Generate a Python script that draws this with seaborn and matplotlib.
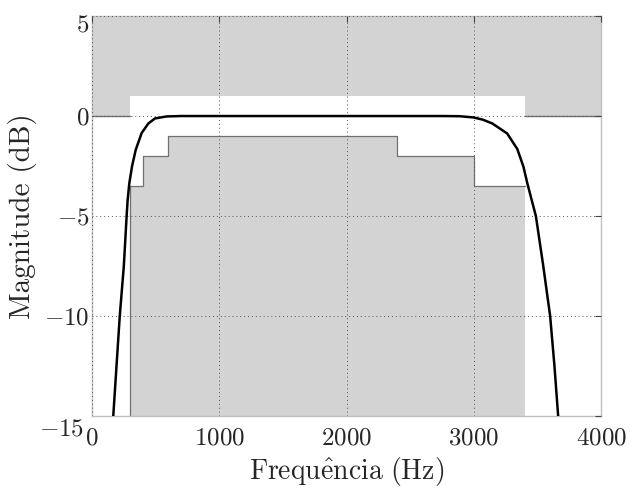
#!/usr/bin/env python3
import numpy as np
import matplotlib
matplotlib.use("Agg")
import matplotlib.pyplot as plt
import matplotlib.transforms as mtransforms
import seaborn as sns

# filter response (Hz, dB)
curve_f = [160, 167, 218, 250, 272, 280, 293, 314, 343, 390, 443, 495, 587, 700,
           1000, 1500, 2000, 2500, 2750, 2890, 2997, 3070, 3145, 3262, 3342, 3390, 3421,
           3455, 3488, 3546, 3600, 3634, 3663, 3675]
curve_db = [-16.5, -15, -10, -7.5, -5, -4.2, -3.37, -2.53, -1.7, -0.85, -0.37, -0.12, -0.02, 0,
            0, 0, 0, 0, 0, -0.01, -0.07, -0.18, -0.37, -0.87, -1.65, -2.53, -3.37,
            -4.2, -5, -7.5, -10, -12.5, -15, -16.5]

# specification mask (step edges)
upper_f = [0, 300, 3400, 4000]
upper_db = [0, 1, 0, 0]
lower_f = [300, 400, 600, 2400, 3000, 3400]
lower_db = [-3.5, -2, -1, -2, -3.5, -3.5]

x_ticks = [0, 1000, 2000, 3000, 4000]
y_ticks = [-15, -10, -5, 0, 5]


def main():
    sns.set_style("white")
    plt.rcParams["font.family"] = "serif"
    plt.rcParams["font.serif"] = ["cmr10"]
    plt.rcParams["mathtext.fontset"] = "cm"
    plt.rcParams["axes.formatter.use_mathtext"] = True

    fig, ax = plt.subplots(figsize=(6.32, 4.87), dpi=100)
    fig.subplots_adjust(left=0.1456, right=0.951, top=0.967, bottom=0.146)

    gray = "#d3d3d3"
    edge = "#707070"
    ymin, ymax = -15, 5

    # forbidden regions
    ax.fill_between(upper_f, upper_db, ymax, step="post", color=gray, lw=0, zorder=1)
    ax.fill_between(lower_f, lower_db, ymin, step="post", color=gray, lw=0, zorder=1)

    # mask edges
    for i in range(len(upper_f) - 1):
        if upper_db[i] == 0:
            ax.plot([upper_f[i], upper_f[i + 1]], [0, 0], color=edge, lw=1.0, zorder=2)
    ax.step(lower_f, lower_db, where="post", color=edge, lw=0.9, zorder=2)
    ax.plot([lower_f[0], lower_f[0]], [ymin, lower_db[0]], color=edge, lw=0.9, zorder=2)

    sns.lineplot(x=curve_f, y=curve_db, estimator=None, sort=False,
                 color="black", lw=1.8, ax=ax, zorder=4)

    ax.set_xlim(0, 4000)
    ax.set_ylim(ymin, ymax)
    ax.set_xticks(x_ticks)
    ax.set_yticks(y_ticks)
    ax.set_axisbelow(False)
    ax.grid(True, color="#555555", linestyle=(0, (1, 3)), lw=0.7)
    ax.tick_params(direction="in", length=4, top=True, right=True,
                   color="#444444", labelsize=18)
    ax.tick_params(axis="x", pad=8)
    ax.tick_params(axis="y", pad=2)
    for sp in ax.spines.values():
        sp.set_color("#bfbfbf")
        sp.set_linewidth(1.0)

    # end labels sit a little lower, as in the original
    fig.canvas.draw()
    ylabels = ax.get_yticklabels()
    for lab, dx, dy in ((ylabels[0], -4, -8), (ylabels[-1], 0, -5)):
        lab.set_transform(lab.get_transform() +
                          mtransforms.ScaledTranslation(dx / 72, dy / 72, fig.dpi_scale_trans))

    ax.set_xlabel(r"$\mathrm{Frequ\hat{e}ncia\ (Hz)}$", fontsize=20, labelpad=4)
    ax.set_ylabel("Magnitude (dB)", fontsize=21, labelpad=1)

    fig.savefig("out.png", dpi=100)
    plt.close(fig)


if __name__ == "__main__":
    main()
